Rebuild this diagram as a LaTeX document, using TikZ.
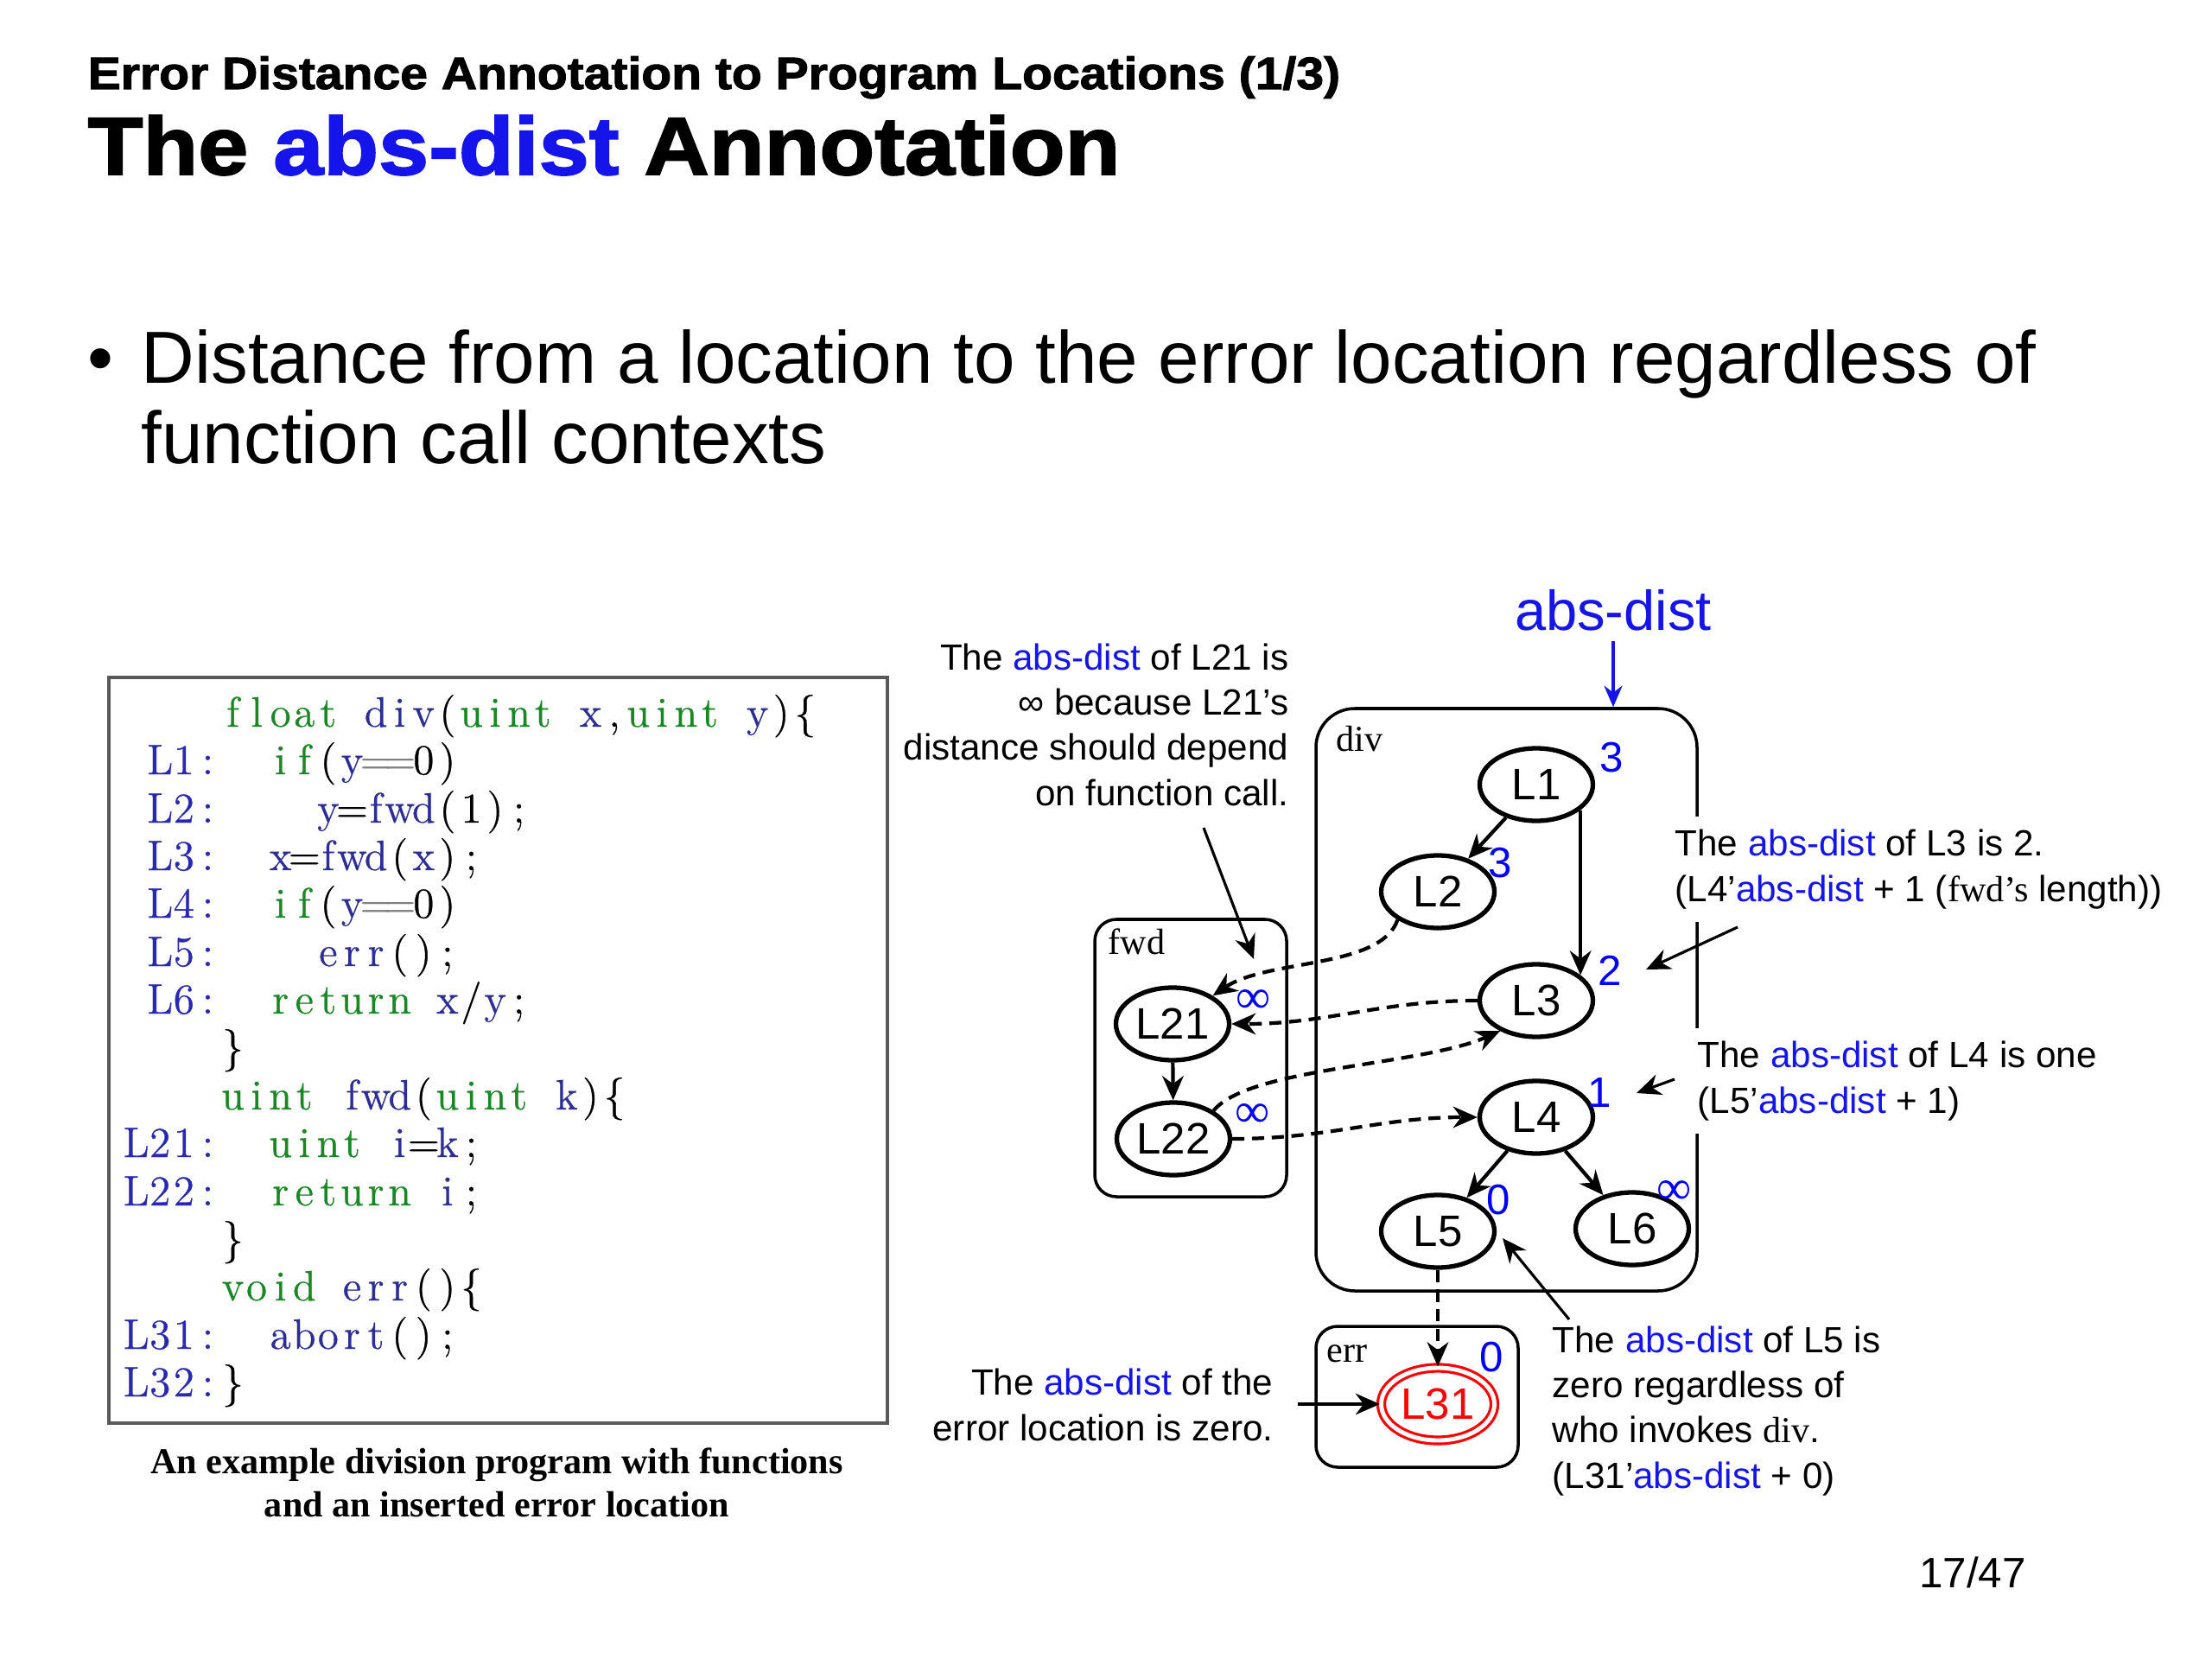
\documentclass[tikz,border=0pt]{standalone}
\usepackage{fontspec}
\setmainfont{Liberation Sans}
\newfontfamily\seriffont{Liberation Serif}
\newfontfamily\codefont[FakeBold=0.6]{Latin Modern Roman}
\newfontfamily\titlefont[FakeBold=2,FakeStretch=1.1]{Liberation Sans Bold}
\usetikzlibrary{shapes.geometric,arrows.meta}

\definecolor{adblue}{RGB}{20,20,235}
\definecolor{kwgreen}{RGB}{25,135,35}
\definecolor{idblue}{RGB}{45,45,150}
\definecolor{labblue}{RGB}{40,40,180}
\definecolor{boxgray}{RGB}{90,90,90}

% fixed-column code characters
\newlength\colw
\setlength\colw{0.276cm}
\newcommand\fcend{\relax FCEND}
\def\fcloop#1{\ifx#1\fcend\else\makebox[\colw]{#1}\expandafter\fcloop\fi}
\newcommand\fc[1]{\fcloop#1\fcend}
\newcommand\kw[1]{\textcolor{kwgreen}{\fc{#1}}}
\newcommand\vr[1]{\textcolor{idblue}{\fc{#1}}}
\newcommand\ind[1]{\hspace*{#1\colw}}
\newcommand\ad{\textcolor{adblue}{abs-dist}}

\begin{document}
\begin{tikzpicture}[
    loc/.style={ellipse, draw, line width=1.5pt, minimum width=1.31cm,
      minimum height=0.84cm, inner sep=0pt, font=\fontsize{14.5}{14.5}\selectfont},
    errloc/.style={loc, draw=red, text=red, line width=0.9pt,
      double=white, double distance=1.4pt},
    fbox/.style={draw, line width=1pt, inner sep=0pt},
    fname/.style={anchor=base west, inner sep=0pt,
      font=\seriffont\fontsize{12}{12}\selectfont},
    dist/.style={text=blue, inner sep=0pt, font=\fontsize{14}{14}\selectfont},
    inf/.style={dist, font=\seriffont\fontsize{16}{16}\selectfont},
    flow/.style={-{Stealth[length=8pt,width=7pt]}, line width=1.2pt},
    call/.style={flow, dash pattern=on 4pt off 2.5pt},
    note/.style={inner sep=0pt, font=\fontsize{12}{14.8}\selectfont},
    pointer/.style={-{Stealth[length=8pt,width=7pt]}, line width=0.9pt},
    code/.style={anchor=base west, inner sep=0pt,
      font=\codefont\fontsize{14}{14}\selectfont},
    codelab/.style={code, anchor=base east, text=labblue}]
  \fill[white] (0,0) rectangle (25.6,-19.2);
  \useasboundingbox (0,0) rectangle (25.6,-19.2);

  % slide title
  \node[anchor=base west, inner sep=0pt, font=\titlefont\fontsize{14.9}{14.9}\selectfont\addfontfeature{FakeStretch=1.09}]
    (sub) at (1.01,-1.03) {Error Distance Annotation to Program Locations (1/3)};
  \node[anchor=base west, inner sep=0pt, font=\titlefont\fontsize{27}{27}\selectfont]
    (title) at (1.01,-2.02) {The \textcolor{adblue}{abs-dist} Annotation};
  \node[anchor=base west, inner sep=0pt, font=\fontsize{24.3}{26.5}\selectfont]
    (bul) at (1.01,-4.44) {•};
  \node[anchor=base west, inner sep=0pt, align=left, font=\fontsize{24.3}{26.5}\selectfont]
    (point) at (1.63,-5.37) {Distance from a location to the error location regardless of\\function call contexts};

  % program listing
  \draw[boxgray, line width=0.9pt] (1.26,-7.84) rectangle (10.27,-16.47);
  \node[code] (c0) at (2.55,-8.41) {\kw{float}\fc{~}\vr{div}\fc{(}\kw{uint}\fc{~}\vr{x}\fc{,}\kw{uint}\fc{~}\vr{y}\fc{)\{}};
  \node[codelab] (l1) at (2.55,-8.96) {\fc{L1:}};
  \node[code] (c1) at (2.55,-8.96) {\ind{2}\kw{if}\fc{(}\vr{y}\textcolor{gray}{\fc{==}}\fc{0)}};
  \node[codelab] (l2) at (2.55,-9.52) {\fc{L2:}};
  \node[code] (c2) at (2.55,-9.52) {\ind{4}\vr{y}\fc{=}\vr{fwd}\fc{(1);}};
  \node[codelab] (l3) at (2.55,-10.07) {\fc{L3:}};
  \node[code] (c3) at (2.55,-10.07) {\ind{2}\vr{x}\fc{=}\vr{fwd}\fc{(}\vr{x}\fc{);}};
  \node[codelab] (l4) at (2.55,-10.62) {\fc{L4:}};
  \node[code] (c4) at (2.55,-10.62) {\ind{2}\kw{if}\fc{(}\vr{y}\textcolor{gray}{\fc{==}}\fc{0)}};
  \node[codelab] (l5) at (2.55,-11.18) {\fc{L5:}};
  \node[code] (c5) at (2.55,-11.18) {\ind{4}\vr{err}\fc{();}};
  \node[codelab] (l6) at (2.55,-11.73) {\fc{L6:}};
  \node[code] (c6) at (2.55,-11.73) {\ind{2}\kw{return}\fc{~}\vr{x}\fc{/}\vr{y}\fc{;}};
  \node[code] (c7) at (2.55,-12.28) {\fc{\}}};
  \node[code] (c8) at (2.55,-12.84) {\kw{uint}\fc{~}\vr{fwd}\fc{(}\kw{uint}\fc{~}\vr{k}\fc{)\{}};
  \node[codelab] (l21) at (2.55,-13.39) {\fc{L21:}};
  \node[code] (c9) at (2.55,-13.39) {\ind{2}\kw{uint}\fc{~}\vr{i}\fc{=}\vr{k}\fc{;}};
  \node[codelab] (l22) at (2.55,-13.95) {\fc{L22:}};
  \node[code] (c10) at (2.55,-13.95) {\ind{2}\kw{return}\fc{~}\vr{i}\fc{;}};
  \node[code] (c11) at (2.55,-14.50) {\fc{\}}};
  \node[code] (c12) at (2.55,-15.05) {\kw{void}\fc{~}\vr{err}\fc{()\{}};
  \node[codelab] (l31) at (2.55,-15.61) {\fc{L31:}};
  \node[code] (c13) at (2.55,-15.61) {\ind{2}\vr{abort}\fc{();}};
  \node[codelab] (l32) at (2.55,-16.16) {\fc{L32:}};
  \node[code] (c14) at (2.55,-16.16) {\fc{\}}};
  \node[anchor=base, inner sep=0pt, align=center, font=\seriffont\bfseries\fontsize{12}{14.2}\selectfont]
    (cap) at (5.75,-17.55) {An example division program with functions\\and an inserted error location};

  % function boxes
  \node[fbox, rounded corners=0.45cm, minimum width=4.41cm, minimum height=6.74cm]
    (divbox) at (17.435,-11.57) {};
  \node[fbox, rounded corners=0.25cm, minimum width=2.22cm, minimum height=3.21cm]
    (fwdbox) at (13.78,-12.245) {};
  \node[fbox, rounded corners=0.25cm, minimum width=2.34cm, minimum height=1.63cm]
    (errbox) at (16.40,-16.165) {};
  \node[fname] (divname) at (15.46,-8.69) {div};
  \node[fname] (fwdname) at (12.82,-11.04) {fwd};
  \node[fname] (errname) at (15.35,-15.76) {err};

  % locations
  \node[loc] (L1) at (17.78,-9.08) {L1};
  \node[loc] (L2) at (16.64,-10.32) {L2};
  \node[loc] (L3) at (17.78,-11.58) {L3};
  \node[loc] (L4) at (17.78,-12.93) {L4};
  \node[loc] (L5) at (16.64,-14.25) {L5};
  \node[loc] (L6) at (18.89,-14.22) {L6};
  \node[loc] (L21) at (13.57,-11.85) {L21};
  \node[loc] (L22) at (13.58,-13.18) {L22};
  \node[errloc] (L31) at (16.64,-16.25) {L31};

  % distances
  \node[dist] (d1) at (18.65,-8.77) {3};
  \node[dist] (d2) at (17.36,-9.99) {3};
  \node[dist] (d3) at (18.63,-11.23) {2};
  \node[dist] (d4) at (18.51,-12.65) {1};
  \node[dist] (d5) at (17.34,-13.89) {0};
  \node[inf] (d6) at (19.38,-13.80) {∞};
  \node[inf] (d21) at (14.51,-11.59) {∞};
  \node[inf] (d22) at (14.50,-12.91) {∞};
  \node[dist] (d31) at (17.26,-15.71) {0};

  % intra- and inter-procedural edges
  \foreach \from/\to in {L1/L2, L21/L22, L4/L5, L4/L6}
    \draw[flow] (\from) -- (\to);
  \draw[flow] (L1.-30) -- (L3.30);
  \draw[call] (L2.-145) .. controls +(-0.2,-0.57) and +(0.63,0.43) .. (L21.35);
  \draw[call] (L3.west) to[out=180, in=0] (L21.east);
  \draw[call] (L22.35) .. controls +(0.4,0.5) and +(-0.9,-0.4) .. (L3.-140);
  \draw[call] (L22.east) to[out=0, in=180] (L4.west);
  \draw[call] (L5) -- (L31);

  % abs-dist marker
  \node[text=adblue, font=\fontsize{18.5}{18.5}\selectfont] (absl) at (18.67,-7.06) {abs-dist};
  \draw[-{Stealth[length=7pt,width=6pt]}, adblue, line width=1pt] (absl.south) -- (absl.south |- divbox.north);

  % remarks
  \node[note, align=right, anchor=base east] (n21) at (14.92,-9.32)
    {The \ad{} of L21 is\\∞ because L21’s\\distance should depend\\on function call.};
  \node[note, align=left, anchor=base west, fill=white, inner xsep=2pt, inner ysep=0.15cm] (n3) at (19.31,-10.43)
    {The \ad{} of L3 is 2.\\(L4’\ad{} + 1 ({\seriffont fwd’s} length))};
  \node[note, align=left, anchor=base west, fill=white, inner xsep=2pt, inner ysep=0.15cm] (n4) at (19.57,-12.88)
    {The \ad{} of L4 is one\\(L5’\ad{} + 1)};
  \node[note, align=left, anchor=base west] (n5) at (17.96,-17.22)
    {The \ad{} of L5 is\\zero regardless of\\who invokes {\seriffont div}.\\(L31’\ad{} + 0)};
  \node[note, align=right, anchor=base east] (nerr) at (14.74,-16.67)
    {The \ad{} of the\\error location is zero.};

  \coordinate (p21) at (13.93,-9.58);
  \coordinate (q21) at (14.51,-11.10);
  \coordinate (p3) at (20.11,-10.73);
  \coordinate (q3) at (19.05,-11.22);
  \coordinate (p4) at (19.38,-12.49);
  \coordinate (q4) at (18.94,-12.65);
  \coordinate (p5) at (18.16,-15.27);
  \coordinate (q5) at (17.39,-14.33);
  \coordinate (perr) at (15.02,-16.25);
  \draw[pointer] (p21) -- (q21);
  \draw[pointer] (p3) -- (q3);
  \draw[pointer] (p4) -- (q4);
  \draw[pointer] (p5) -- (q5);
  \draw[pointer] (perr) -- (L31.west);

  \node[inner sep=0pt, anchor=base, font=\fontsize{14}{14}\selectfont] (page) at (22.83,-18.37) {17/47};
\end{tikzpicture}
\end{document}
